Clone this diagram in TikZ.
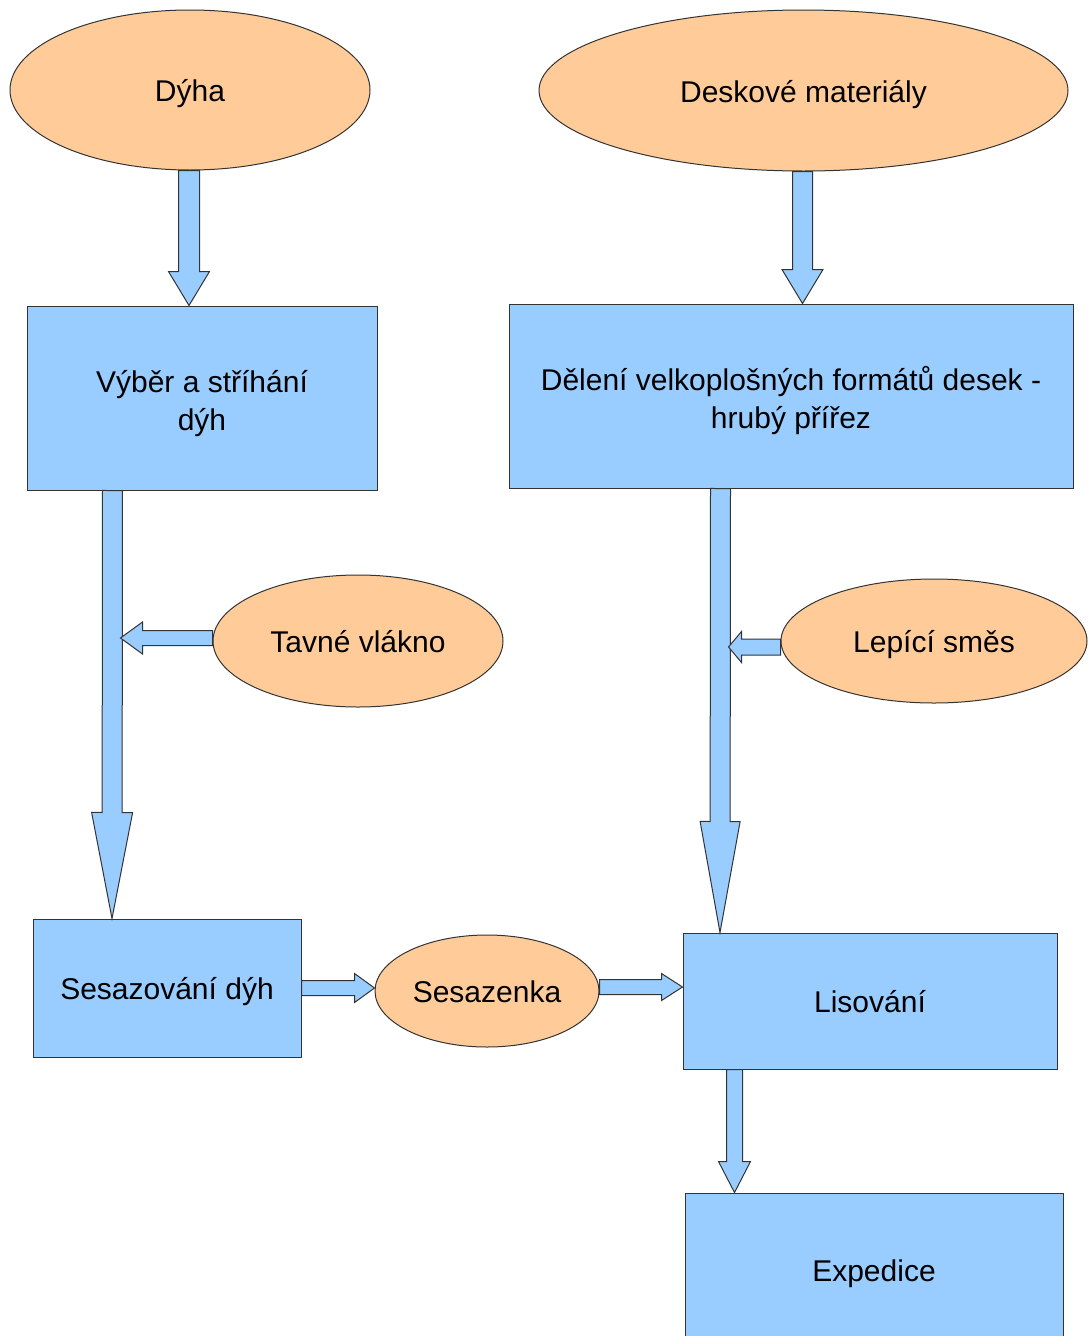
\documentclass[tikz,border=0pt]{standalone}
\usepackage{fontspec}
\setmainfont{Liberation Sans}
\usetikzlibrary{shapes.geometric,calc}
\definecolor{boxblue}{HTML}{99CCFF}
\definecolor{ellorange}{HTML}{FFCC99}
\definecolor{edge}{HTML}{333333}
\tikzset{
  lbl/.style={font=\fontsize{30}{38}\selectfont, text=black, align=center, inner sep=0pt,
     text height=23pt, text depth=0pt},
  twoline/.style={text height=64pt},
  ellnode/.style={lbl, ellipse, draw=edge, line width=1pt, fill=ellorange},
  boxnode/.style={lbl, rectangle, draw=edge, line width=1pt, fill=boxblue},
  barrow/.style={draw=edge, line width=1pt, fill=boxblue, line join=miter}
}
% #1 start, #2 tip, #3 shaft half width, #4 head half width, #5 head length
\newcommand\blockarr[5]{%
  \path ($(#2)!#5!(#1)$) coordinate (ba-h);
  \draw[barrow] ($(#1)!#3!90:(#2)$) -- ($(ba-h)!#3!90:(#2)$) -- ($(ba-h)!#4!90:(#2)$) -- (#2)
     -- ($(ba-h)!#4!-90:(#2)$) -- ($(ba-h)!#3!-90:(#2)$) -- ($(#1)!#3!-90:(#2)$) -- cycle;}
\begin{document}
\begin{tikzpicture}[x=1pt,y=-1pt]
\useasboundingbox (0,0) rectangle (1089,1336);
\clip (0,0) rectangle (1089,1336);
% nodes
\node[ellnode, minimum width=360pt, minimum height=160pt] (dyha) at (190,90) {Dýha};
\node[ellnode, minimum width=529pt, minimum height=161pt] (desk) at (803.5,90.5) {Deskové materiály};
\node[boxnode, twoline, minimum width=350pt, minimum height=184pt] (vyber) at (202,398) {Výběr a stříhání\\dýh};
\node[boxnode, twoline, minimum width=564pt, minimum height=184pt] (del) at (791,396) {Dělení velkoplošných formátů desek -\\hrubý přířez};
\node[ellnode, minimum width=290pt, minimum height=132pt] (tavne) at (358,641) {Tavné vlákno};
\node[ellnode, minimum width=306pt, minimum height=124pt] (lep) at (934,641) {Lepící směs};
\node[boxnode, minimum width=268pt, minimum height=138pt] (sesdyh) at (167,988) {Sesazování dýh};
\node[ellnode, minimum width=224pt, minimum height=112pt] (sesazenka) at (487,991) {Sesazenka};
\node[boxnode, minimum width=374pt, minimum height=136pt] (lis) at (870,1001) {Lisování};
\node[boxnode, minimum width=378pt, minimum height=154pt] (exp) at (874,1270) {Expedice};
% connector end points
\coordinate (a1s) at ($(dyha.south)+(-1,0)$);
\coordinate (a1e) at (a1s |- vyber.north);
\coordinate (a2s) at ($(desk.south)+(-1,0)$);
\coordinate (a2e) at (a2s |- del.north);
\coordinate (a3s) at ($(vyber.south west)+(86,0)$);
\coordinate (a3e) at ($(a3s |- sesdyh.north)+(-0.5,0)$);
\coordinate (a4s) at ($(tavne.west)+(0,-3)$);
\coordinate (a4e) at ($(a3s |- a4s)+(8,0)$);
\coordinate (a5s) at ($(del.south west)+(212,0)$);
\coordinate (a5e) at ($(a5s |- lis.north)+(-0.5,0)$);
\coordinate (a6s) at ($(lep.west)+(0,6)$);
\coordinate (a6e) at ($(a5s |- a6s)+(8,0)$);
\coordinate (a7s) at (sesdyh.east);
\coordinate (a7e) at (sesazenka.west |- sesdyh.east);
\coordinate (a8s) at ($(sesazenka.east)+(0,-4)$);
\coordinate (a8e) at (a8s -| lis.west);
\coordinate (a9s) at ($(lis.south west)+(52,0)$);
\coordinate (a9e) at (a9s |- exp.north);
% block arrows
\blockarr{a1s}{a1e}{10.5pt}{20.5pt}{34pt}
\blockarr{a2s}{a2e}{10pt}{20.5pt}{34pt}
\blockarr{a3s}{a3e}{10pt}{20.5pt}{106pt}
\blockarr{a5s}{a5e}{10pt}{20pt}{111pt}
\blockarr{a4s}{a4e}{7.5pt}{16pt}{22pt}
\blockarr{a6s}{a6e}{8pt}{15.5pt}{13pt}
\blockarr{a7s}{a7e}{7.5pt}{14.5pt}{20pt}
\blockarr{a8s}{a8e}{7.5pt}{13.5pt}{21pt}
\blockarr{a9s}{a9e}{8pt}{16pt}{31pt}
\end{tikzpicture}
\end{document}
